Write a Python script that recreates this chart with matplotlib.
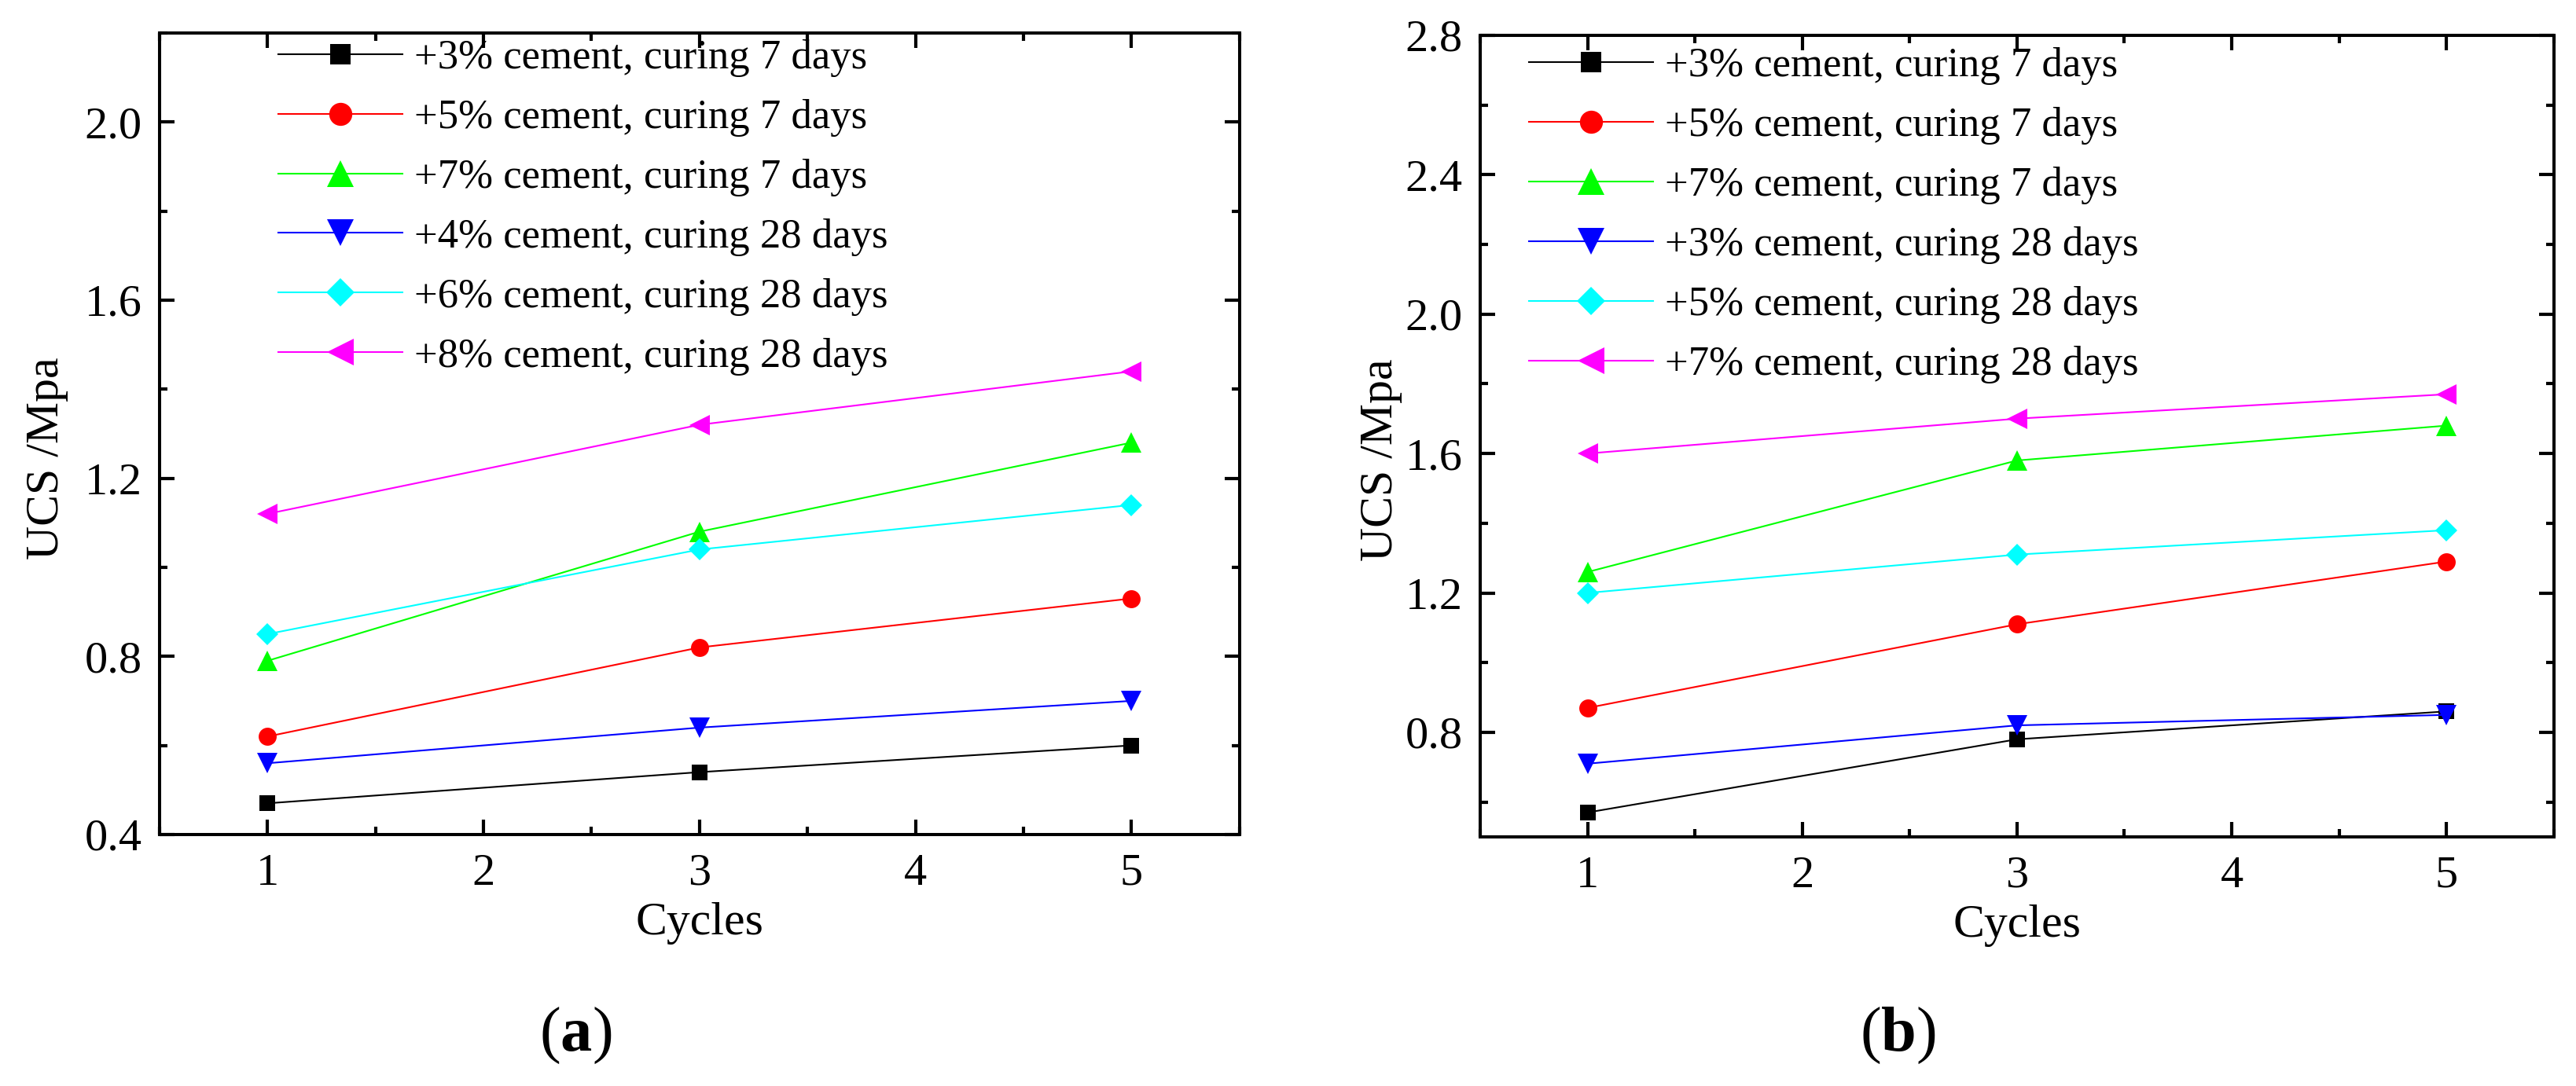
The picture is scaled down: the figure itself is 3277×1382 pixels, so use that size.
import matplotlib
matplotlib.use("Agg")
import matplotlib.pyplot as plt
from matplotlib.ticker import MultipleLocator

plt.rcParams['font.family'] = ['Liberation Serif', 'DejaVu Serif']
plt.rcParams['mathtext.fontset'] = 'custom'
plt.rcParams['mathtext.rm'] = 'Liberation Serif'
plt.rcParams['mathtext.bf'] = 'Liberation Serif:bold'

# data
cycles = [1, 3, 5]

labels_a = ['+3% cement, curing 7 days', '+5% cement, curing 7 days',
            '+7% cement, curing 7 days', '+4% cement, curing 28 days',
            '+6% cement, curing 28 days', '+8% cement, curing 28 days']
ucs_a_3_7 = [0.47, 0.54, 0.60]
ucs_a_5_7 = [0.62, 0.82, 0.93]
ucs_a_7_7 = [0.79, 1.08, 1.28]
ucs_a_4_28 = [0.56, 0.64, 0.70]
ucs_a_6_28 = [0.85, 1.04, 1.14]
ucs_a_8_28 = [1.12, 1.32, 1.44]

labels_b = ['+3% cement, curing 7 days', '+5% cement, curing 7 days',
            '+7% cement, curing 7 days', '+3% cement, curing 28 days',
            '+5% cement, curing 28 days', '+7% cement, curing 28 days']
ucs_b_3_7 = [0.57, 0.78, 0.86]
ucs_b_5_7 = [0.87, 1.11, 1.29]
ucs_b_7_7 = [1.26, 1.58, 1.68]
ucs_b_3_28 = [0.71, 0.82, 0.85]
ucs_b_5_28 = [1.20, 1.31, 1.38]
ucs_b_7_28 = [1.60, 1.70, 1.77]

colors = ['#000000', '#ff0000', '#00ff00', '#0000ff', '#00ffff', '#ff00ff']
markers = ['s', 'o', '^', 'v', 'D', '<']
msizes = [15, 16.5, 19, 19, 14, 19]


def draw_panel(ax, series, labels, ylim, leg_xy, ylab_xy):
    for vals, lab, c, m, ms in zip(series, labels, colors, markers, msizes):
        ax.plot(cycles, vals, color=c, marker=m, markersize=ms,
                markeredgewidth=0, linewidth=1.5, label=lab)
    ax.set_xlim(0.5, 5.5)
    ax.set_ylim(*ylim)
    ax.xaxis.set_major_locator(MultipleLocator(1))
    ax.xaxis.set_minor_locator(MultipleLocator(0.5))
    ax.yaxis.set_major_locator(MultipleLocator(0.4))
    ax.yaxis.set_minor_locator(MultipleLocator(0.2))
    ax.yaxis.set_major_formatter(lambda v, p: f'{v:.1f}')
    ax.tick_params(which='both', direction='in', top=True, right=True,
                   width=3, labelsize=42)
    ax.tick_params(which='major', length=14)
    ax.tick_params(which='minor', length=7)
    ax.tick_params(axis='x', pad=17)
    ax.tick_params(axis='y', pad=16)
    for sp in ax.spines.values():
        sp.set_linewidth(2.9)
    ax.set_xlabel('Cycles', fontsize=43)
    ax.set_ylabel('UCS /Mpa', fontsize=43)
    ax.xaxis.set_label_coords(0.5, -0.084)
    ax.yaxis.set_label_coords(*ylab_xy)
    ax.legend(loc='upper left', bbox_to_anchor=leg_xy, frameon=False,
              fontsize=38, handlelength=3.0, handletextpad=0.27,
              labelspacing=0.53, borderpad=0, borderaxespad=0,
              markerscale=1.28)


fig = plt.figure(figsize=(32.77, 13.82), dpi=100)
ax_a = fig.add_axes([0.0619, 0.2316, 0.4193, 0.7381])
ax_b = fig.add_axes([0.5746, 0.2294, 0.4168, 0.7381])

draw_panel(ax_a, [ucs_a_3_7, ucs_a_5_7, ucs_a_7_7, ucs_a_4_28, ucs_a_6_28, ucs_a_8_28],
           labels_a, (0.4, 2.2), (0.11, 0.992), (-0.084, 0.469))
draw_panel(ax_b, [ucs_b_3_7, ucs_b_5_7, ucs_b_7_7, ucs_b_3_28, ucs_b_5_28, ucs_b_7_28],
           labels_b, (0.5, 2.8), (0.0454, 0.985), (-0.0725, 0.470))

fig.text(732 / 3277, 1 - 1318 / 1382, r'($\mathbf{a}$)', fontsize=58,
         ha='center', va='center')
fig.text(2414 / 3277, 1 - 1318 / 1382, r'($\mathbf{b}$)', fontsize=58,
         ha='center', va='center')

fig.savefig('out.png', dpi=100)
